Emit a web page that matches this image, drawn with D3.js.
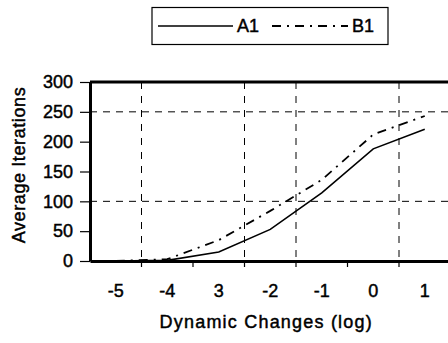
<!DOCTYPE html>
<html>
<head>
<meta charset="utf-8">
<script src="https://cdn.jsdelivr.net/npm/d3@7/dist/d3.min.js"></script>
<style>
  html, body { margin: 0; padding: 0; background: #fff; }
  svg { display: block; }
  text { font-family: "Liberation Sans", Arial, sans-serif; fill: #000; stroke: #000; stroke-width: 0.45px; }
</style>
</head>
<body>
<svg id="chart" width="448" height="343"></svg>
<script>
// ---- data ----
const categories = ["-5", "-4", "3", "-2", "-1", "0", "1"];
const seriesA1 = [0, 1, 15, 53, 114, 188, 221];
const seriesB1 = [0, 3, 35, 84, 136, 212, 243];
const yTicks = [0, 50, 100, 150, 200, 250, 300];
const hGrid = [100, 250];
const vGridAt = ["-4", "-2", "-1", "1"]; // left edge of these categories
const seriesNames = ["A1", "B1"];

// ---- layout ----
const svg = d3.select("#chart");
const mLeft = 90, mTop = 82, mBottom = 261, bandW = 51.5;
const mRight = mLeft + bandW * categories.length;

const x = d3.scaleBand().domain(categories).range([mLeft, mRight]).paddingInner(0).paddingOuter(0);
const y = d3.scaleLinear().domain([0, 300]).range([mBottom, mTop]);

// gridlines
svg.append("g").selectAll("line").data(hGrid).join("line")
  .attr("x1", mLeft).attr("x2", mRight)
  .attr("y1", d => y(d)).attr("y2", d => y(d))
  .attr("stroke", "#000").attr("stroke-width", 1).attr("stroke-dasharray", "7,6");
svg.append("g").selectAll("line").data(vGridAt).join("line")
  .attr("x1", d => x(d)).attr("x2", d => x(d))
  .attr("y1", mTop).attr("y2", mBottom)
  .attr("stroke", "#000").attr("stroke-width", 1).attr("stroke-dasharray", "7,7");

// lines
const line = d3.line()
  .x((d, i) => x(categories[i]) + x.bandwidth() / 2)
  .y(d => y(d));
svg.append("path").datum(seriesA1).attr("d", line)
  .attr("fill", "none").attr("stroke", "#000").attr("stroke-width", 1.6);
svg.append("path").datum(seriesB1).attr("d", line)
  .attr("fill", "none").attr("stroke", "#000").attr("stroke-width", 1.8)
  .attr("stroke-dasharray", "9,6,2,6");

// top border
svg.append("line").attr("x1", mLeft).attr("x2", mRight).attr("y1", y(300)).attr("y2", y(300))
  .attr("stroke", "#000").attr("stroke-width", 3);

// y axis
const yAxis = svg.append("g").attr("transform", `translate(${mLeft},0)`)
  .call(d3.axisLeft(y).tickValues(yTicks).tickSize(10).tickSizeOuter(0).tickPadding(7));
yAxis.select(".domain").attr("stroke-width", 3);
yAxis.selectAll(".tick line").attr("stroke-width", 1.2);
yAxis.selectAll("text").attr("font-size", 18);

// x axis
const xAxis = svg.append("g").attr("transform", `translate(0,${mBottom})`)
  .call(d3.axisBottom(x).tickSize(0).tickPadding(23).tickSizeOuter(0));
xAxis.select(".domain").attr("stroke-width", 3);
xAxis.selectAll("text").attr("font-size", 18);
// boundary ticks
svg.append("g").selectAll("line").data(categories.slice(1).concat(["__end"])).join("line")
  .attr("x1", d => d === "__end" ? mRight : x(d))
  .attr("x2", d => d === "__end" ? mRight : x(d))
  .attr("y1", mBottom).attr("y2", mBottom + 6)
  .attr("stroke", "#000").attr("stroke-width", 1.2);

// axis titles
svg.append("text").attr("x", (mLeft + mRight) / 2 - 4).attr("y", 328)
  .attr("text-anchor", "middle").attr("font-size", 18).attr("letter-spacing", 1.2)
  .text("Dynamic Changes (log)");
svg.append("text").attr("transform", "translate(25,165) rotate(-90)")
  .attr("text-anchor", "middle").attr("font-size", 18).attr("letter-spacing", 0.6)
  .text("Average Iterations");

// legend
const lg = svg.append("g");
lg.append("rect").attr("x", 152).attr("y", 7.5).attr("width", 236).attr("height", 37)
  .attr("fill", "#fff").attr("stroke", "#000").attr("stroke-width", 1.2);
lg.append("line").attr("x1", 158).attr("x2", 233).attr("y1", 26).attr("y2", 26)
  .attr("stroke", "#000").attr("stroke-width", 1.6);
lg.append("text").attr("x", 237).attr("y", 32).attr("font-size", 18).text(seriesNames[0]);
lg.append("line").attr("x1", 272).attr("x2", 348).attr("y1", 26).attr("y2", 26)
  .attr("stroke", "#000").attr("stroke-width", 1.8).attr("stroke-dasharray", "9,6,2,6");
lg.append("text").attr("x", 352).attr("y", 32).attr("font-size", 18).text(seriesNames[1]);
</script>
</body>
</html>
